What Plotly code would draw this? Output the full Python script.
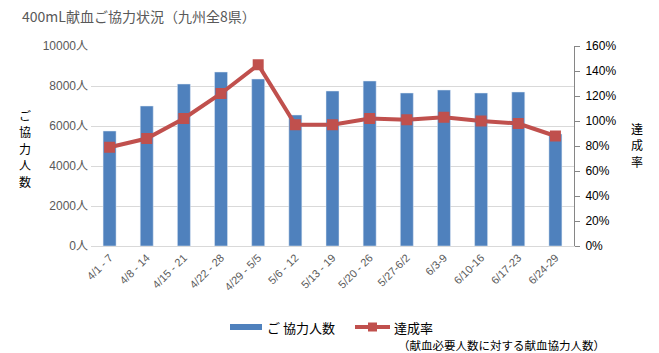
import plotly.graph_objects as go

categories = ["4/1 - 7", "4/8 - 14", "4/15 - 21", "4/22 - 28", "4/29 - 5/5", "5/6 - 12",
              "5/13 - 19", "5/20 - 26", "5/27-6/2", "6/3-9", "6/10-16", "6/17-23", "6/24-29"]
donors = [5750, 7000, 8100, 8700, 8350, 6550, 7750, 8250, 7650, 7800, 7650, 7700, 5600]
rate = [0.79, 0.86, 1.02, 1.22, 1.45, 0.97, 0.97, 1.02, 1.01, 1.03, 1.00, 0.98, 0.88]

BLUE = "#4f81bd"
RED = "#c0504d"
GRAY = "#595959"
FONT = "Liberation Sans, Noto Sans CJK JP, sans-serif"
JP = "Noto Sans CJK JP, sans-serif"

fig = go.Figure()
fig.add_trace(go.Bar(x=categories, y=donors, name="ご 協力人数", marker_color=BLUE,
                     width=0.35, yaxis="y"))
fig.add_trace(go.Scatter(x=categories, y=rate, name="達成率", mode="lines+markers",
                         line=dict(color=RED, width=4),
                         marker=dict(symbol="square", size=11, color=RED),
                         yaxis="y2"))

W, H = 659, 353
L, R, T, B = 91, 85, 46, 107
pw, ph = W - L - R, H - T - B

def px(x):
    return (x - L) / pw

def py(y):
    return (H - B - y) / ph

LEG_Y = 327
shapes = [
    dict(type="rect", xref="paper", yref="paper", x0=px(230), x1=px(262), y0=py(LEG_Y + 3),
         y1=py(LEG_Y - 3), fillcolor=BLUE, line=dict(width=0)),
    dict(type="line", xref="paper", yref="paper", x0=px(355), x1=px(390), y0=py(LEG_Y),
         y1=py(LEG_Y), line=dict(color=RED, width=4)),
    dict(type="rect", xref="paper", yref="paper", x0=px(368), x1=px(377), y0=py(LEG_Y + 4.5),
         y1=py(LEG_Y - 4.5), fillcolor=RED, line=dict(width=0)),
]

annotations = [
    dict(text="ご 協力人数", xref="paper", yref="paper", x=px(265), y=py(LEG_Y), xanchor="left",
         yanchor="middle", showarrow=False, font=dict(family=JP, size=13, color="#000000")),
    dict(text="達成率", xref="paper", yref="paper", x=px(392), y=py(LEG_Y), xanchor="left",
         yanchor="middle", showarrow=False, font=dict(family=JP, size=13, color="#000000")),
    dict(text="（献血必要人数に対する献血協力人数）", xref="paper", yref="paper", x=px(397), y=py(344.5),
         xanchor="left", yanchor="middle", showarrow=False, borderpad=0,
         font=dict(family=JP, size=11.5, color="#000000")),
]

left_title = "ご協力人数"
for i, ch in enumerate(left_title):
    annotations.append(dict(text=ch, xref="paper", yref="paper", x=px(25), y=py(115 + i * 16.5),
                            xanchor="center", yanchor="middle", showarrow=False, borderpad=0,
                            font=dict(family=JP, size=12, color="#000000")))
right_title = "達成率"
for i, ch in enumerate(right_title):
    annotations.append(dict(text=ch, xref="paper", yref="paper", x=px(637), y=py(128 + i * 16.5),
                            xanchor="center", yanchor="middle", showarrow=False, borderpad=0,
                            font=dict(family=JP, size=12, color="#000000")))

fig.update_layout(
    width=W, height=H,
    margin=dict(l=L, r=R, t=T, b=B),
    paper_bgcolor="white", plot_bgcolor="white",
    showlegend=False,
    title=dict(text="400mL献血ご協力状況（九州全8県）", xref="container", yref="container",
               x=22 / W, y=1 - 17 / H, xanchor="left", yanchor="middle",
               font=dict(family=JP, size=14, color=GRAY)),
    xaxis=dict(tickangle=-45, tickfont=dict(family=FONT, size=11, color=GRAY),
               showline=True, linecolor="#d9d9d9", linewidth=1, showgrid=False,
               range=[-0.5, len(categories) - 0.5]),
    yaxis=dict(range=[0, 10000], dtick=2000, tickformat="d", ticksuffix="人", showgrid=True,
               gridcolor="#d9d9d9", gridwidth=1, zeroline=False, showline=False,
               tickfont=dict(family=FONT, size=12, color=GRAY), ticklabelstandoff=2),
    yaxis2=dict(range=[0, 1.6], dtick=0.2, tickformat=".0%", overlaying="y", side="right",
                showgrid=False, zeroline=False, showline=True, linecolor="#868686", linewidth=1,
                ticks="outside", ticklen=5, tickcolor="#868686",
                tickfont=dict(family=FONT, size=12, color="#000000"), ticklabelstandoff=3),
    shapes=shapes,
    annotations=annotations,
)

fig.write_html("out.html")
